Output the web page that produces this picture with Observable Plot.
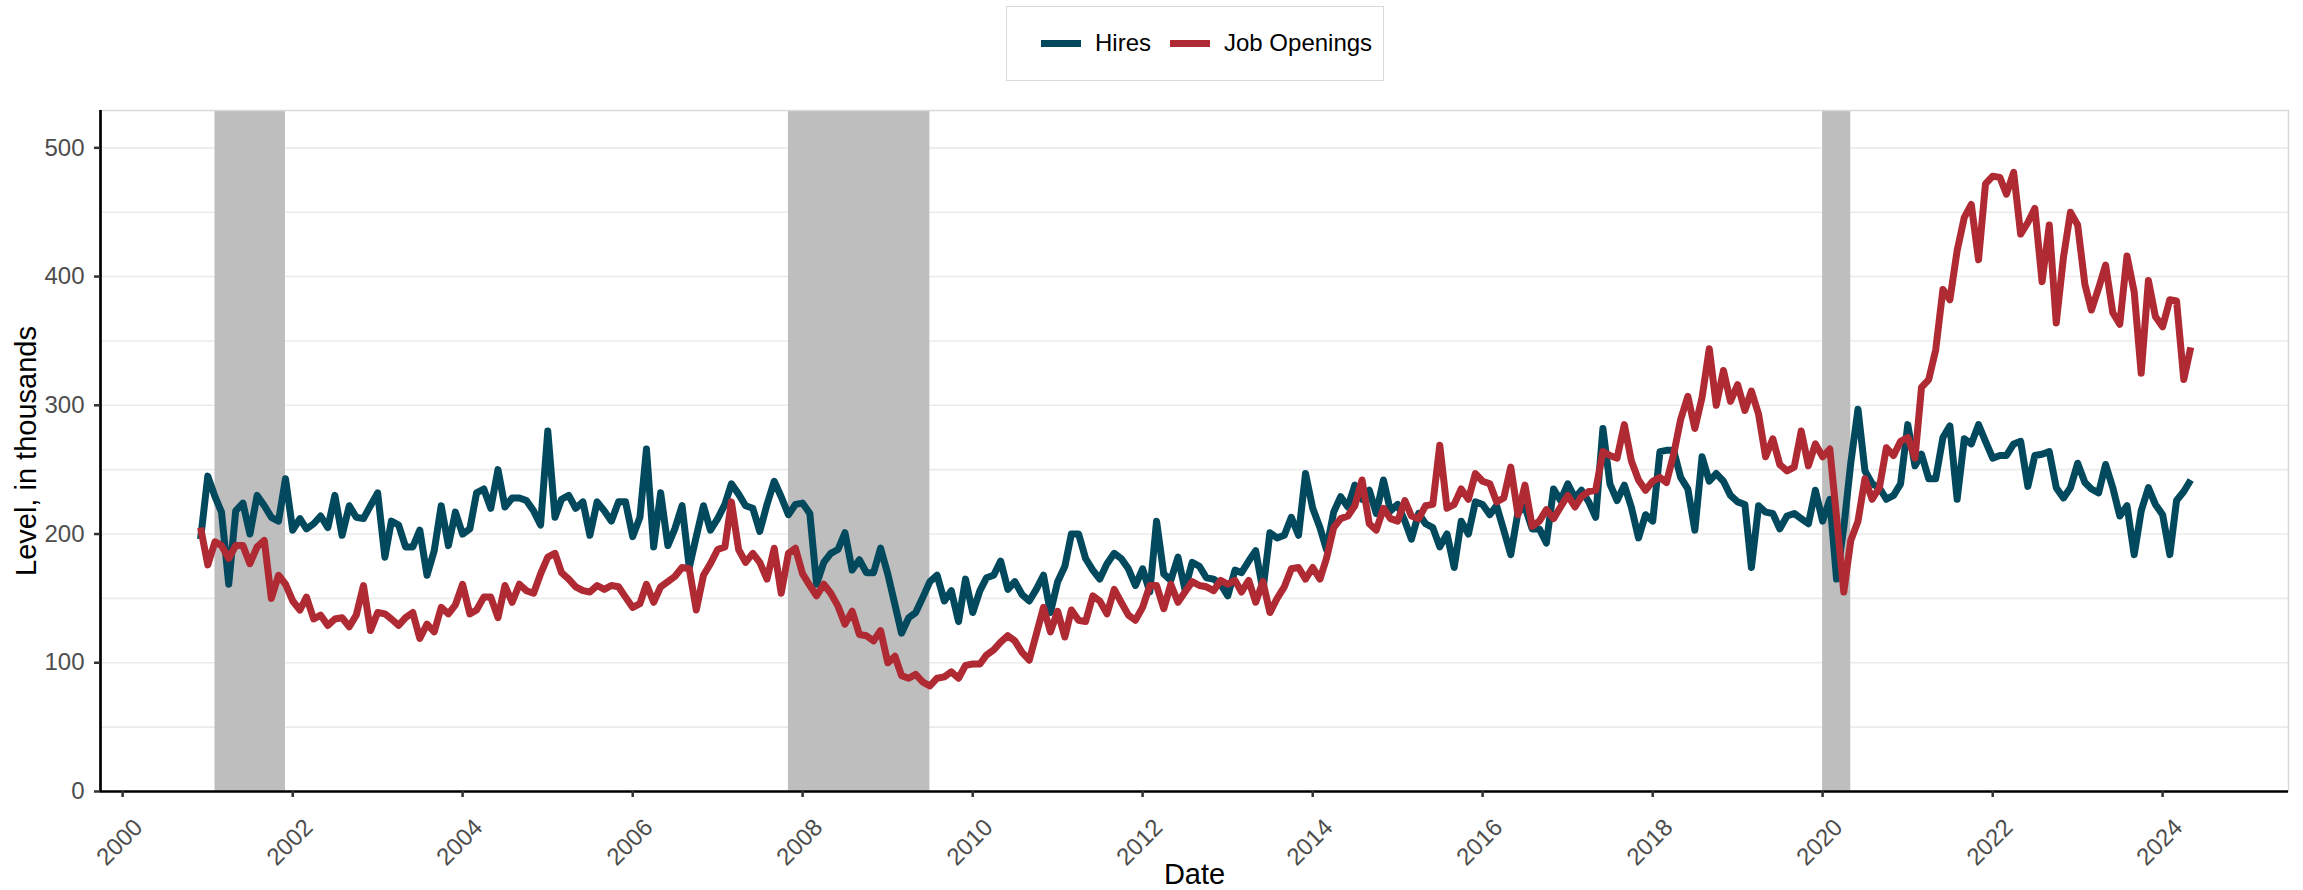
<!DOCTYPE html>
<html>
<head>
<meta charset="utf-8">
<script src="https://cdn.jsdelivr.net/npm/d3@7"></script>
<script src="https://cdn.jsdelivr.net/npm/@observablehq/plot@0.6"></script>
<style>
  body { margin: 0; background: #fff; font-family: "Liberation Sans", Arial, sans-serif; }
  #wrap { position: relative; width: 2303px; height: 890px; }
  #legend { position: absolute; left: 1006px; top: 6px; width: 378px; height: 75px; border: 1px solid #d9d9d9; box-sizing: border-box; background: #fff; }
  .sw { position: absolute; top: 33px; width: 40px; height: 7px; }
  .lt { position: absolute; top: 23px; font-size: 24px; line-height: 26px; color: #000; }
</style>
</head>
<body>
<div id="wrap">
  <div id="chart"></div>
  <div id="legend"></div>
</div>
<script>
// ---- data (monthly, Dec 2000 .. May 2024), in thousands ----
const firstYear = 2000, firstMonth = 11; // December 2000 (0-based month)
const seriesNames = ["Hires", "Job Openings"];
const seriesColors = ["#02495E", "#B02A33"];

const hires = [
196,245,229,217,161,218,224,200,230,222,213,210,243,
203,212,204,208,214,205,230,199,222,213,212,222,
232,182,210,207,190,190,203,168,187,222,191,217,
200,204,232,235,220,250,221,228,228,226,218,207,
280,213,227,230,220,225,199,225,218,210,225,225,
198,213,266,190,232,191,204,222,174,198,222,203,
212,223,239,231,222,220,202,223,241,229,215,223,
224,216,161,178,185,188,201,172,180,170,170,189,
169,145,123,135,139,151,163,168,148,156,132,165,
139,156,166,168,179,157,163,153,148,157,168,139,
163,175,200,200,181,172,165,177,185,181,173,160,
173,155,210,169,164,182,157,178,175,166,165,161,
152,172,170,179,187,156,201,197,199,213,199,247,
220,205,188,217,229,221,238,227,234,216,242,218,
223,210,196,216,208,205,190,200,174,210,200,225,
223,215,222,203,184,217,221,204,204,193,235,226,
239,228,234,225,213,282,239,226,238,221,197,215,
210,264,265,265,244,235,203,260,241,247,241,230,
225,223,174,222,217,216,204,214,216,212,208,234,
210,227,165,205,255,297,249,239,236,227,230,239,
285,253,262,243,243,275,284,227,274,270,285,272,
259,261,261,270,272,237,261,262,264,236,228,236,
255,240,235,232,254,236,214,222,184,218,236,223,
215,184,226,233,242
];

const openings = [
205,176,194,191,181,191,191,177,190,195,150,168,161,
148,141,151,134,137,129,134,135,128,137,160,125,
139,138,134,129,135,139,119,130,124,143,138,145,
161,138,141,151,151,135,160,147,161,156,154,169,
182,185,170,165,159,156,155,160,157,160,159,151,
143,146,161,147,159,163,167,174,173,141,168,177,
188,190,225,188,178,185,178,165,189,154,185,189,
169,160,152,161,154,144,130,140,122,121,117,125,
100,105,90,88,91,85,82,88,89,93,88,98,
99,99,106,110,116,121,117,108,102,122,143,124,
140,120,141,133,132,152,148,138,157,147,137,133,
143,160,160,142,161,147,155,163,160,159,156,164,
161,164,155,164,147,163,139,150,159,173,174,165,
174,165,181,205,212,214,222,242,208,203,220,212,
210,226,214,212,222,223,269,220,223,235,227,247,
241,239,225,228,252,215,238,206,210,219,212,221,
230,221,229,233,234,264,261,259,285,257,242,234,
241,244,240,262,289,307,282,306,344,300,327,303,
316,296,311,293,260,274,254,249,252,280,253,270,
260,266,213,155,195,210,243,227,236,267,261,272,
275,259,314,320,343,390,382,420,446,456,413,472,
478,477,464,481,433,442,453,396,440,364,415,450,
440,394,374,391,409,372,363,416,388,325,397,369,
361,382,381,320,345
];

const recessionStart = ["2001-02-01", "2007-11-01", "2020-01-01"];
const recessionEnd   = ["2001-12-01", "2009-07-01", "2020-05-01"];

const yTicks = [0, 100, 200, 300, 400, 500];
const yGrid = [50, 100, 150, 200, 250, 300, 350, 400, 450, 500];
const xTickYears = [2000, 2002, 2004, 2006, 2008, 2010, 2012, 2014, 2016, 2018, 2020, 2022, 2024];

// ---- build tables ----
const monthDate = i => new Date(Date.UTC(firstYear, firstMonth + i, 1));
const rows = [
  ...hires.map((v, i) => ({date: monthDate(i), value: v, series: seriesNames[0]})),
  ...openings.map((v, i) => ({date: monthDate(i), value: v, series: seriesNames[1]}))
];
const recessions = recessionStart.map((s, i) => ({start: new Date(s + "T00:00Z"), end: new Date(recessionEnd[i] + "T00:00Z")}));
const xTicks = xTickYears.map(y => new Date(Date.UTC(y, 0, 1)));
const xDomain = [new Date(Date.UTC(1999, 8, 28)), new Date(Date.UTC(2025, 5, 25))];

const font = '"Liberation Sans", Arial, sans-serif';

const chart = Plot.plot({
  width: 2303,
  height: 890,
  marginLeft: 100,
  marginRight: 15,
  marginTop: 110,
  marginBottom: 99,
  style: {fontFamily: font, background: "#fff", overflow: "visible"},
  x: {type: "utc", domain: xDomain},
  y: {domain: [0, 529]},
  color: {domain: seriesNames, range: seriesColors},
  marks: [
    Plot.ruleY(yGrid, {stroke: "#ebebeb", strokeWidth: 1.6}),
    Plot.rect(recessions, {x1: "start", x2: "end", fill: "#bebebe"}),
    Plot.frame({stroke: "#d9d9d9", strokeWidth: 1.5}),
    Plot.line(rows.filter(d => d.series === seriesNames[0]), {x: "date", y: "value", stroke: "series", strokeWidth: 7, strokeLinejoin: "round", strokeLinecap: "butt"}),
    Plot.line(rows.filter(d => d.series === seriesNames[1]), {x: "date", y: "value", stroke: "series", strokeWidth: 7, strokeLinejoin: "round", strokeLinecap: "butt"}),
    Plot.ruleY([0], {stroke: "#000", strokeWidth: 2.7}),
    Plot.ruleX([xDomain[0]], {stroke: "#000", strokeWidth: 2.7}),
    Plot.axisY({ticks: yTicks, tickSize: 6, tickPadding: 10, stroke: "#333", strokeWidth: 2.5, fill: "#4d4d4d", fontSize: 24, label: null}),
    Plot.axisX({ticks: xTicks, tickSize: 6, stroke: "#333", strokeWidth: 2.5, tickFormat: () => "", label: null}),
    Plot.text(xTickYears, {x: d => new Date(Date.UTC(d, 0, 1)), frameAnchor: "bottom", text: d => String(d), rotate: -45, textAnchor: "end", lineAnchor: "middle", dx: 16, dy: 32, fill: "#4d4d4d", fontSize: 24}),
    Plot.text(["Level, in thousands"], {frameAnchor: "left", rotate: -90, textAnchor: "middle", lineAnchor: "middle", dx: -74, fontSize: 29, fill: "#000"}),
    Plot.text(["Date"], {frameAnchor: "bottom", textAnchor: "middle", lineAnchor: "middle", dy: 83, fontSize: 29, fill: "#000"})
  ]
});
document.getElementById("chart").appendChild(chart);

// ---- legend ----
const legend = document.getElementById("legend");
const swLeft = [34, 163], txtLeft = [88, 217];
seriesNames.forEach((name, i) => {
  const sw = document.createElement("div");
  sw.className = "sw";
  sw.style.left = swLeft[i] + "px";
  sw.style.background = seriesColors[i];
  legend.appendChild(sw);
  const t = document.createElement("div");
  t.className = "lt";
  t.style.left = txtLeft[i] + "px";
  t.textContent = name;
  legend.appendChild(t);
});
</script>
</body>
</html>
